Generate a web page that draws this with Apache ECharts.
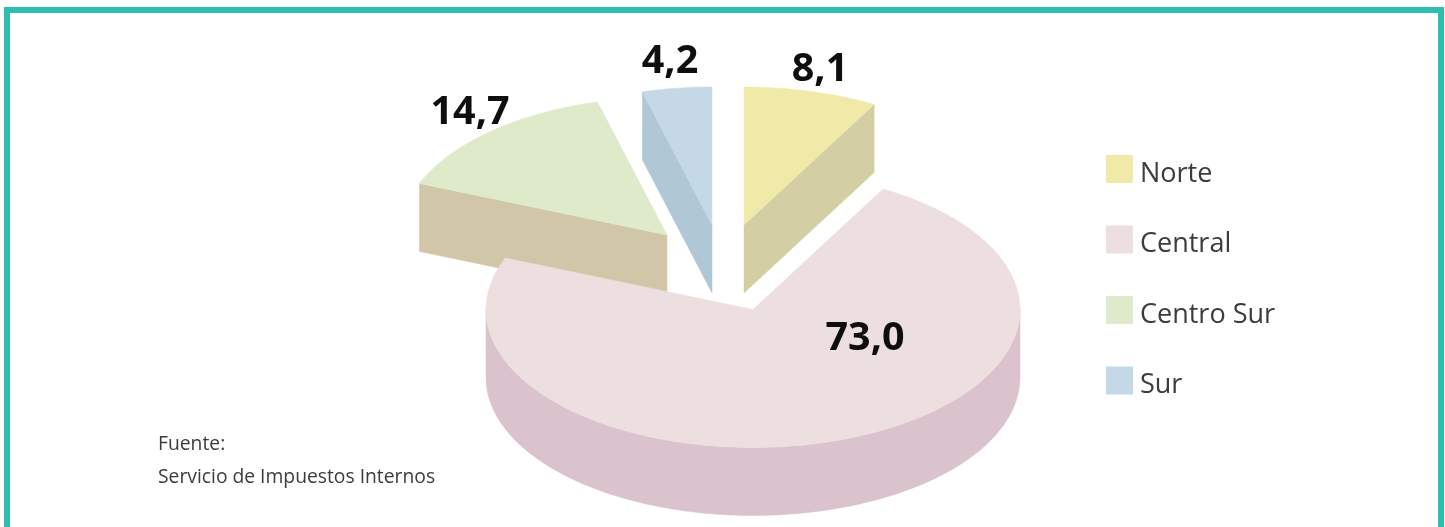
<!DOCTYPE html>
<html>
<head>
<meta charset="utf-8">
<style>html,body{margin:0;padding:0;background:#fff}#c{width:1445px;height:527px;filter:blur(0.6px)}</style>
<script src="https://cdn.jsdelivr.net/npm/echarts@6/dist/echarts.min.js"></script>
</head>
<body>
<div id="c"></div>
<script>
// Data
var categories = ['Norte', 'Central', 'Centro Sur', 'Sur'];
var values = [8.1, 73.0, 14.7, 4.2];
var valueLabels = ['8,1', '73,0', '14,7', '4,2'];
var sourceLines = ['Fuente:', 'Servicio de Impuestos Internos'];

// Styles and layout (not data)
var topColors = ['#f0e9a8', '#eddfe0', '#dfeaca', '#c5d8e5'];
var sideColors = ['#d3cea3', '#dac3cc', '#d2c6a9', '#b0c7d6'];
var layers = [3, 2, 1, 3];
var pieCenter = [753, 309.5];
var radiusX = 267, radiusY = 138, depth = 68;
var explode = [[-9, -84.5], [0, 0], [-86, -74.5], [-41, -84.5]];
var labelPositions = [[820, 70], [865, 339], [470, 113], [670, 62]];

var total = values.reduce(function (a, b) { return a + b; }, 0);
var startAngles = [];
values.reduce(function (sum, v, i) { startAngles[i] = sum / total * 2 * Math.PI; return sum + v; }, 0);

function renderSlice(params, api) {
  var i = params.seriesIndex;
  var t0 = startAngles[i];
  var t1 = t0 + api.value(0) / total * 2 * Math.PI;
  var cx = pieCenter[0] + explode[i][0], cy = pieCenter[1] + explode[i][1];
  function pt(t, dy) { return [cx + radiusX * Math.sin(t), cy - radiusY * Math.cos(t) + (dy || 0)]; }
  function arc(a, b) { var n = Math.max(2, Math.ceil((b - a) * 60)), out = []; for (var k = 0; k <= n; k++) out.push(a + (b - a) * k / n); return out; }
  function poly(points, fill) {
    return { type: 'polygon', shape: { points: points }, style: { fill: fill, stroke: fill, lineWidth: 0.5 } };
  }
  function radialFace(t) {
    return poly([pt(t), [cx, cy], [cx, cy + depth], pt(t, depth)], sideColors[i]);
  }
  var children = [];
  if (Math.sin(t0) < 0) children.push(radialFace(t0));
  if (Math.sin(t1) > 0) children.push(radialFace(t1));
  var a = Math.max(t0, Math.PI / 2), b = Math.min(t1, 1.5 * Math.PI);
  if (b > a) {
    var ts = arc(a, b);
    var outer = ts.map(function (t) { return pt(t); });
    var lower = ts.slice().reverse().map(function (t) { return pt(t, depth); });
    children.push(poly(outer.concat(lower), sideColors[i]));
  }
  var topFace = [[cx, cy]].concat(arc(t0, t1).map(function (t) { return pt(t); }));
  children.push(poly(topFace, topColors[i]));
  children.push({
    type: 'text',
    style: {
      text: valueLabels[i], x: labelPositions[i][0], y: labelPositions[i][1],
      align: 'center', verticalAlign: 'middle',
      font: 'bold 39.5px "Open Sans"', fill: '#0e0e0e'
    }
  });
  return { type: 'group', children: children };
}

var series = categories.map(function (name, i) {
  return {
    type: 'custom', name: name, coordinateSystem: 'none', z: layers[i],
    silent: true, animation: false,
    itemStyle: { color: topColors[i] },
    data: [[values[i]]],
    renderItem: renderSlice
  };
});

var chart = echarts.init(document.getElementById('c'), null, { renderer: 'canvas' });
chart.setOption({
  animation: false,
  backgroundColor: '#ffffff',
  color: topColors,
  legend: {
    left: 1101, top: 150, orient: 'vertical', icon: 'rect',
    itemWidth: 27, itemHeight: 28, itemGap: 38, selectedMode: false,
    data: categories,
    formatter: '{t|{name}}',
    textStyle: {
      rich: { t: { fontFamily: 'Open Sans', fontSize: 27, color: '#3c3c3c', padding: [10, 0, 0, 2] } }
    }
  },
  title: {
    left: 153, top: 423,
    text: sourceLines.join('\n'),
    textStyle: { fontFamily: 'Open Sans', fontWeight: 'normal', fontSize: 19.3, lineHeight: 33, color: '#3c3c3c' }
  },
  graphic: [{
    type: 'rect', z: 10, silent: true,
    shape: { x: 7, y: 10, width: 1434, height: 600 },
    style: { fill: 'none', stroke: '#2dbdb1', lineWidth: 6 }
  }],
  series: series
});
</script>
</body>
</html>
